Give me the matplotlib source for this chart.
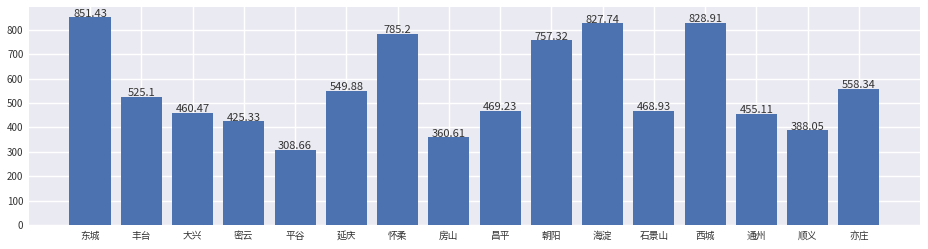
import matplotlib
matplotlib.use("Agg")
import matplotlib.pyplot as plt

# 数据
districts = ["东城", "丰台", "大兴", "密云", "平谷", "延庆", "怀柔", "房山",
             "昌平", "朝阳", "海淀", "石景山", "西城", "通州", "顺义", "亦庄"]
prices = [851.43, 525.1, 460.47, 425.33, 308.66, 549.88, 785.2, 360.61,
          469.23, 757.32, 827.74, 468.93, 828.91, 455.11, 388.05, 558.34]

plt.rcParams['font.family'] = ['Noto Sans CJK SC', 'DejaVu Sans']
plt.rcParams['axes.unicode_minus'] = False

fig = plt.figure(figsize=(9.29, 2.49), dpi=100)
ax = fig.add_axes([29 / 929, 24 / 249, 891 / 929, 218 / 249])
ax.set_facecolor('#EAEAF2')
ax.set_axisbelow(True)
ax.grid(color='white', linewidth=1)
for sp in ax.spines.values():
    sp.set_visible(False)

x = range(len(districts))
ax.bar(x, prices, width=0.8, color='#4C72B0')
for i, v in zip(x, prices):
    ax.text(i, v - 6, str(v), ha='center', va='bottom', fontsize=8, color='#333333')

ax.set_xticks(list(x))
ax.set_xticklabels(districts)
ax.tick_params(axis='both', length=0, labelsize=7, colors='#333333', pad=4)

fig.savefig('out.png', dpi=100)
